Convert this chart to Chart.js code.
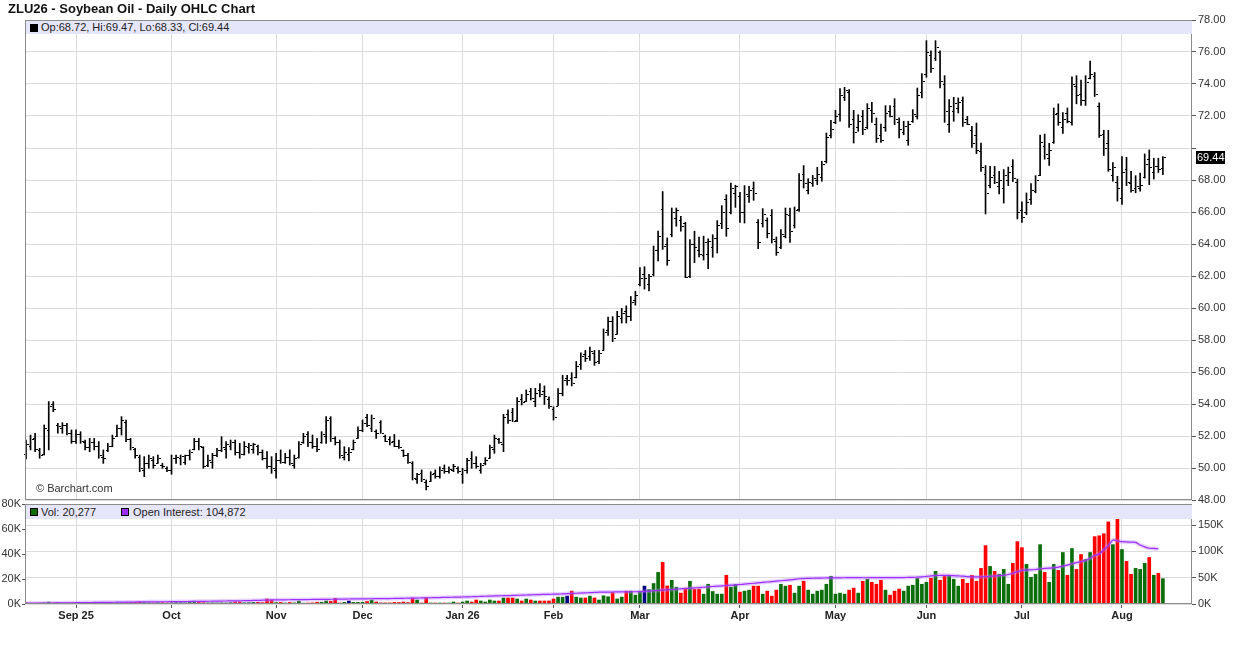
<!DOCTYPE html>
<html>
<head>
<meta charset="utf-8">
<script src="https://cdn.jsdelivr.net/npm/chart.js@4/dist/chart.umd.min.js"></script>
<style>
  body { margin: 0; background: #fff; font-family: "Liberation Sans", Arial, sans-serif; }
  #wrap { position: relative; width: 1236px; height: 645px; overflow: hidden; background: #fff; }
  .box { position: absolute; left: 0; width: 1236px; }
  .t { position: absolute; font-size: 11px; color: #222; white-space: nowrap; line-height: 13px; }
  .band { position: absolute; left: 26px; width: 1166px; background: #e6e6fa; }
  .sq { position: absolute; width: 6px; height: 6px; }
</style>
</head>
<body>
<div id="wrap">
  <div class="box" style="top:0;height:512px"><canvas id="price" width="1236" height="512"></canvas></div>
  <div class="box" style="top:488px;height:157px"><canvas id="vol" width="1236" height="157"></canvas></div>

  <div class="t" style="left:8px;top:1px;font-size:13px;font-weight:bold;color:#111;line-height:16px">ZLU26 - Soybean Oil - Daily OHLC Chart</div>

  <div class="band" style="top:21px;height:13px"></div>
  <div class="sq" style="left:30px;top:24px;background:#000;border:1px solid #000"></div>
  <div class="t" style="left:41px;top:21px">Op:68.72, Hi:69.47, Lo:68.33, Cl:69.44</div>

  <div class="t" style="left:36px;top:482px;color:#333">© Barchart.com</div>

  <div class="band" style="top:505px;height:14px"></div>
  <div class="sq" style="left:30px;top:508px;background:#0b6e0b;border:1px solid #000"></div>
  <div class="t" style="left:41px;top:505px;line-height:14px">Vol: 20,277</div>
  <div class="sq" style="left:121px;top:508px;background:#9b30ff;border:1px solid #000"></div>
  <div class="t" style="left:133px;top:505px;line-height:14px">Open Interest: 104,872</div>
</div>
<script>
// ZLU26 daily bars, Aug 15 2025 .. Aug 14 2026 (251 sessions)
const monthStarts = [11, 32, 55, 74, 96, 116, 135, 157, 178, 198, 219, 241];
const monthLabels = ['Sep 25', 'Oct', 'Nov', 'Dec', 'Jan 26', 'Feb', 'Mar', 'Apr', 'May', 'Jun', 'Jul', 'Aug'];
const priceTicks = [48, 50, 52, 54, 56, 58, 60, 62, 64, 66, 68, 70, 72, 74, 76, 78];
const volTicks = [0, 20000, 40000, 60000, 80000];
const oiTicks = [0, 50000, 100000, 150000];

const opens = [
  50.9,51.4,51.9,51.1,50.9,52.4,54.0,52.7,52.5,52.7,
  52.2,51.7,52.1,51.6,51.3,51.6,51.4,50.7,51.1,51.4,
  52.0,52.5,52.9,51.8,51.2,50.7,49.9,50.3,50.5,50.3,
  50.2,50.0,49.9,50.6,50.6,50.4,50.8,51.2,51.7,51.3,
  50.2,50.4,50.8,51.1,51.2,51.4,51.6,51.0,50.9,51.3,
  51.2,51.4,51.0,50.6,50.1,49.9,50.5,50.4,50.7,50.2,
  50.7,51.6,52.1,51.6,51.4,51.6,52.0,53.1,51.9,51.6,
  50.7,50.9,51.2,51.9,52.4,53.2,52.5,52.3,52.9,52.0,
  51.8,51.7,51.4,51.1,50.8,50.3,49.3,49.7,49.1,49.2,
  49.7,49.5,50.0,49.8,49.9,50.0,49.6,49.9,50.6,50.3,
  49.9,50.3,50.6,51.2,51.8,51.5,53.4,53.5,53.0,54.3,
  54.2,54.8,54.2,54.9,54.8,54.3,53.7,53.9,54.7,55.6,
  55.6,55.7,56.5,57.1,57.0,57.2,56.7,57.4,58.6,59.2,
  58.4,59.4,59.8,59.5,60.5,61.5,62.1,61.5,62.1,63.6,
  66.2,64.0,64.6,65.6,65.5,65.3,62.0,64.0,63.6,63.3,
  63.4,63.8,64.4,65.3,66.8,66.0,67.2,67.0,66.0,67.0,
  67.5,65.4,65.3,65.5,65.8,64.2,63.8,64.5,65.8,65.2,
  66.2,68.4,67.4,67.8,68.0,68.2,69.2,70.8,71.6,72.1,
  73.2,73.5,71.8,71.3,72.0,71.3,72.4,71.5,70.8,71.3,
  72.3,72.6,71.6,71.0,70.5,71.7,72.0,73.5,74.6,75.8,
  75.6,76.0,74.0,71.5,72.3,72.5,73.0,71.8,71.1,70.8,
  69.8,68.4,67.7,68.3,67.6,67.5,68.0,68.9,67.9,66.1,
  66.0,66.8,67.3,68.3,70.1,69.4,70.4,72.2,71.3,72.2,
  71.6,73.9,73.4,73.0,74.4,74.5,72.6,70.9,70.3,68.3,
  67.9,66.9,68.7,67.8,67.5,67.5,68.2,69.3,68.5,68.9,68.72
];
const highs = [
  51.75,52.06,52.17,51.23,52.69,54.15,54.15,52.79,52.83,52.79,
  52.38,52.38,52.27,51.75,51.85,51.85,51.65,51.13,51.54,52.06,
  52.69,53.21,53.00,51.85,51.23,50.81,50.71,50.81,50.71,50.81,
  50.29,50.08,50.81,50.81,50.81,50.81,51.13,51.85,51.85,51.33,
  50.81,50.92,51.23,51.96,51.65,51.75,51.75,51.54,51.65,51.54,
  51.54,51.44,51.13,51.02,50.71,50.92,51.13,50.92,51.13,50.81,
  51.65,52.17,52.27,52.06,51.85,52.27,53.21,53.21,51.96,51.75,
  51.33,51.27,51.75,52.58,53.00,53.36,53.31,52.38,52.96,52.06,
  51.96,52.10,51.75,51.13,50.92,50.40,49.67,49.88,49.25,49.77,
  49.88,50.08,50.19,50.08,50.23,50.08,49.98,50.60,51.02,50.71,
  50.29,50.65,51.44,52.06,51.85,53.36,53.63,53.73,54.40,54.60,
  54.88,54.98,54.98,55.27,55.13,54.45,53.83,54.96,55.79,55.79,
  55.96,56.66,57.20,57.35,57.55,57.35,57.35,58.69,59.44,59.46,
  59.79,59.98,60.14,60.72,61.05,62.52,62.58,62.11,63.87,64.80,
  67.28,64.38,66.25,66.25,65.73,65.36,64.28,64.80,64.43,64.49,
  64.32,64.58,65.46,66.40,67.08,67.81,67.67,67.23,67.65,67.60,
  67.88,65.52,66.21,65.63,66.15,64.44,64.90,66.25,66.25,66.31,
  68.40,68.90,68.08,68.29,68.79,69.17,70.94,71.73,72.35,73.71,
  73.79,73.65,72.35,72.08,72.35,72.77,72.85,71.88,71.50,72.65,
  72.65,73.08,71.88,71.67,71.67,72.40,73.75,74.65,76.71,76.08,
  76.71,76.08,74.52,73.02,73.17,73.13,73.19,71.98,71.35,71.56,
  70.31,68.90,68.85,68.85,68.54,68.65,68.81,69.27,68.06,66.63,
  67.19,67.77,68.27,70.80,70.87,70.29,72.50,72.76,72.21,72.50,
  74.45,74.52,74.25,74.52,75.44,74.72,72.82,71.11,71.11,69.09,
  68.23,69.46,69.42,68.54,68.27,68.43,69.63,69.88,69.36,69.36,69.47
];
const lows = [
  50.56,51.13,51.02,50.61,50.81,51.13,53.52,52.17,52.17,52.06,
  51.54,51.54,51.54,51.13,51.02,51.13,50.61,50.29,51.02,51.33,
  51.96,52.06,51.65,51.13,50.61,49.77,49.46,49.98,49.98,50.29,
  49.98,49.77,49.61,50.29,50.19,50.23,50.50,51.13,51.13,49.98,
  50.08,49.98,50.71,51.02,50.61,51.13,50.81,50.61,50.81,50.92,
  50.92,50.81,50.50,49.98,49.67,49.36,50.29,50.29,50.19,49.98,
  50.61,51.54,51.33,51.23,51.02,51.54,51.54,51.65,51.44,50.61,
  50.50,50.44,51.13,51.85,52.27,52.58,52.27,51.85,52.17,51.65,
  51.44,51.33,51.23,50.71,50.29,49.25,49.04,49.15,48.63,49.15,
  49.36,49.36,49.67,49.67,49.77,49.67,49.04,49.67,49.98,49.98,
  49.67,50.19,50.60,50.92,51.54,51.02,52.79,52.90,52.90,53.94,
  54.15,54.25,53.83,54.45,53.97,53.72,53.00,53.89,54.51,55.17,
  55.13,55.63,56.16,56.66,56.72,56.41,56.52,57.35,58.28,57.90,
  58.36,59.06,59.06,59.21,60.18,61.38,61.18,61.07,62.00,62.94,
  63.66,62.67,64.45,65.11,64.80,61.90,61.90,62.83,63.20,63.00,
  62.46,63.17,63.44,64.96,64.48,65.88,66.29,65.35,65.31,66.60,
  66.73,63.71,65.06,64.38,64.06,63.29,63.71,64.38,64.10,65.00,
  66.04,67.50,67.13,67.60,67.71,67.92,69.06,70.63,71.52,71.67,
  72.96,71.29,70.31,71.04,70.83,71.19,71.60,70.35,70.35,71.04,
  71.94,71.46,70.63,70.83,70.17,71.60,71.81,73.13,74.42,74.73,
  75.46,73.75,71.60,70.98,71.67,72.19,71.35,71.46,70.04,69.65,
  68.54,65.88,67.50,67.77,67.13,66.56,67.65,67.90,65.56,65.35,
  65.83,66.47,67.20,68.27,69.30,68.91,70.29,71.42,70.91,71.57,
  71.42,72.76,72.66,72.66,74.31,73.22,70.66,69.53,68.54,67.92,
  66.68,66.47,67.65,67.24,67.20,67.30,68.12,67.71,68.06,68.47,68.33
];
const closes = [
  51.5,51.8,51.2,50.8,52.5,53.9,53.7,52.6,52.7,52.2,
  51.7,52.1,51.7,51.3,51.6,51.4,50.8,50.6,51.4,51.9,
  52.5,53.0,51.8,51.3,50.8,50.0,50.3,50.6,50.2,50.6,
  50.1,49.9,50.6,50.7,50.75,50.8,51.0,51.7,51.4,50.1,
  50.5,50.8,51.1,51.3,51.5,51.6,51.0,50.9,51.4,51.45,
  51.5,51.0,50.6,50.1,50.0,50.5,50.4,50.7,50.3,50.6,
  51.5,52.0,51.6,51.4,51.2,52.1,53.0,51.9,51.6,50.8,
  51.0,51.0,51.6,52.4,52.8,52.7,53.1,52.2,52.18,51.7,
  51.6,51.4,51.3,50.8,50.4,49.4,49.6,49.3,48.9,49.6,
  49.5,49.9,49.8,49.95,50.1,49.8,49.9,50.5,50.3,50.1,
  50.2,50.5,51.3,51.9,51.6,53.2,53.0,52.95,54.2,54.1,
  54.6,54.4,54.7,54.6,54.5,53.9,53.2,54.7,55.5,55.5,
  55.3,56.4,57.0,56.9,57.3,56.6,57.2,58.5,59.2,58.1,
  59.5,59.7,59.5,60.4,60.8,61.9,61.9,62.0,63.6,64.5,
  63.9,63.0,66.0,66.1,65.1,61.95,64.0,63.8,63.4,64.1,
  64.2,64.4,65.2,66.0,65.0,67.5,67.6,66.0,67.1,67.4,
  67.2,64.1,65.9,64.7,64.3,63.5,64.6,65.9,64.8,66.1,
  68.0,67.8,67.9,68.1,68.4,69.0,70.7,71.2,72.0,73.3,
  73.6,71.5,71.0,71.7,71.2,72.5,72.2,70.6,70.5,72.2,
  72.0,71.8,71.2,71.4,71.5,72.1,73.3,74.2,76.0,75.0,
  76.3,74.2,72.3,72.6,72.8,72.9,71.6,71.5,70.3,69.9,
  68.8,67.2,68.2,67.9,68.0,68.3,68.5,68.1,66.0,65.7,
  66.6,67.4,68.0,70.4,69.6,69.9,72.1,71.6,71.8,71.7,
  74.0,73.3,73.0,74.1,74.6,73.4,70.8,70.0,68.7,68.8,
  67.5,68.5,67.9,67.4,67.6,67.7,69.0,68.8,68.9,68.7,69.44
];
const volumes = [
  800,500,600,700,900,1500,900,1000,600,700,
  800,600,700,800,600,500,900,1300,800,900,
  1000,900,1100,1300,1400,1500,1200,1000,800,1100,
  1200,900,1000,1200,1100,1000,1300,2300,1300,1100,
  900,1000,900,1000,900,1100,1700,1600,1000,1100,
  1300,1300,1100,4000,3200,1100,1300,800,1200,900,
  2300,700,800,900,1400,1400,2400,2100,4500,800,
  1300,2400,1300,1300,1400,2000,3200,1600,900,900,
  900,1300,1200,1600,1100,4800,3200,800,5000,800,
  800,800,800,800,1600,800,1600,2400,1600,3200,
  2400,1600,3200,2400,2400,4800,4800,4800,4000,2400,
  4000,3200,2400,2400,2400,2400,4000,5500,5500,6300,
  10300,5500,4800,4800,6300,4800,3200,6600,5800,9200,
  4000,5500,10300,10300,7100,10300,14300,11600,16400,25300,
  33300,14500,19000,13500,8700,12700,18200,11900,11900,7900,
  15800,10000,7900,7900,23000,13500,15600,9500,10300,11100,
  14300,14300,7900,10300,6300,11100,15800,14300,15000,8700,
  14300,18200,11100,7900,10300,11100,15800,22200,7900,8700,
  7900,11100,12700,8700,18200,19800,17400,15800,19000,11100,
  7100,10300,11900,10300,14300,15000,20500,15800,17400,20600,
  26100,19000,22200,23000,19800,14300,19800,16600,23000,18200,
  28500,46700,30100,26100,23800,27700,15800,32500,49900,45100,
  31700,21400,23800,47500,25300,17400,31700,26900,41200,23000,
  44400,27700,39600,35600,41200,53900,54600,56200,65700,47500,
  69700,43600,34100,23800,28500,27700,32500,37200,23000,24600,20277
];
const openInterest = [
  1500,1500,1600,1600,1700,1800,1900,2000,2100,2200,
  2300,2500,2600,2700,2800,2900,3000,3100,3200,3300,
  3400,3500,3600,3700,3800,3900,4000,4100,4200,4200,
  4300,4300,4400,4500,4600,4700,4800,4900,5000,5100,
  5200,5300,5400,5600,5700,5800,5900,6100,6300,6500,
  6700,6900,7200,7500,7700,7800,7900,8000,8100,8200,
  8300,8400,8500,8600,8700,8800,8900,9000,9100,9200,
  9300,9500,9600,9700,9800,9900,10000,10100,10200,10300,
  10400,10500,10700,10800,11000,11200,11300,11500,11700,11900,
  12100,12300,12500,12700,12900,13100,13300,13500,13800,14100,
  14400,14700,15000,15300,15600,15800,16000,16200,16500,16800,
  17100,17400,17700,18000,18200,18400,18600,18800,19200,19600,
  20000,20400,20800,21200,21600,22000,22400,22600,22700,22800,
  22900,23000,23100,23200,23300,23500,24000,24600,25200,25800,
  26400,27000,27600,28200,28800,29400,30000,30600,31200,31800,
  32500,33200,33800,34400,35000,35700,36300,37000,37800,38600,
  39400,40200,41000,41800,42600,43400,44200,45000,45800,46800,
  48000,48400,48700,48900,49100,49300,49500,49600,49700,49800,
  49900,50000,50000,50000,49900,49900,50000,50000,50100,50100,
  50000,50100,50200,50300,50500,50700,51000,51500,52500,53500,
  54000,54500,54500,54200,53800,53300,52800,52000,51400,51400,
  51600,52000,52500,53200,54000,54500,56000,58500,61500,64000,
  64500,65000,65500,67000,67500,68000,69000,70000,72000,74000,
  76400,78500,80500,82700,87000,92000,95200,103000,111000,121600,
  120000,118400,118000,117500,117200,112000,108500,105900,105500,104872,null
];

const FONT = '"Liberation Sans", Arial, sans-serif';
const GRID = '#dcdcdc';
const FRAME = '#8c8c8c';
const X_MIN = -0.22, X_MAX = 256.4;
const last = closes.length - 1;

function monthAxis(showLabels) {
  return {
    type: 'linear', min: X_MIN, max: X_MAX, offset: false,
    afterBuildTicks: s => { s.ticks = monthStarts.map(v => ({ value: v })); },
    grid: { color: GRID, offset: false, drawTicks: showLabels, tickLength: 4, tickColor: '#555' },
    border: { display: false },
    ticks: {
      display: showLabels, autoSkip: false, maxRotation: 0, padding: 1,
      color: '#222', font: { family: FONT, size: 11, weight: 'bold' },
      callback: v => monthLabels[monthStarts.indexOf(v)]
    },
    afterFit: s => { s.height = showLabels ? 41 : 0; }
  };
}

const framePlugin = {
  id: 'frame',
  afterDraw(chart) {
    const a = chart.chartArea, ctx = chart.ctx;
    ctx.save();
    ctx.strokeStyle = FRAME;
    ctx.lineWidth = 1;
    ctx.strokeRect(Math.round(a.left) + 0.5, Math.round(a.top) + 0.5,
      Math.round(a.right - a.left) - 1, Math.round(a.bottom - a.top) - 1);
    ctx.restore();
  }
};

// open / close ticks on each bar, and the last price flag
const ohlcPlugin = {
  id: 'ohlc',
  afterDatasetsDraw(chart) {
    const xs = chart.scales.x, ys = chart.scales.y, ctx = chart.ctx;
    ctx.save();
    ctx.fillStyle = '#000';
    for (let i = 0; i < closes.length; i++) {
      const px = Math.round(xs.getPixelForValue(i));
      ctx.fillRect(px - 2, Math.round(ys.getPixelForValue(opens[i])), 2, 1);
      ctx.fillRect(px + 1, Math.round(ys.getPixelForValue(closes[i])), 2, 1);
    }
    const py = Math.round(ys.getPixelForValue(closes[last]));
    ctx.fillRect(1196, py - 6, 29, 13);
    ctx.fillStyle = '#fff';
    ctx.font = '11px ' + FONT;
    ctx.textBaseline = 'middle';
    ctx.fillText(closes[last].toFixed(2), 1197, py + 0.5);
    ctx.restore();
  }
};

new Chart(document.getElementById('price'), {
  type: 'bar',
  data: {
    datasets: [{
      data: highs.map((h, i) => ({ x: i, y: [lows[i], h] })),
      backgroundColor: '#000',
      borderWidth: 0,
      barThickness: 1
    }]
  },
  options: {
    responsive: false, animation: false,
    layout: { padding: { left: 25, top: 20, right: 0, bottom: 12 } },
    plugins: { legend: { display: false }, tooltip: { enabled: false } },
    scales: {
      x: monthAxis(false),
      y: {
        position: 'right', min: 48, max: 78,
        afterBuildTicks: s => { s.ticks = priceTicks.map(v => ({ value: v })); },
        grid: { color: GRID, tickLength: 4, tickColor: '#555' },
        border: { display: false },
        ticks: {
          padding: 2, color: '#333', font: { family: FONT, size: 11 },
          callback: v => Math.abs(v - closes[last]) < 1 ? '' : v.toFixed(2)
        },
        afterFit: s => { s.width = 44; }
      }
    }
  },
  plugins: [ohlcPlugin, framePlugin]
});

const volColors = closes.map((c, i) => {
  if (i === 0 || c > closes[i - 1]) return '#0b6e0b';
  if (c < closes[i - 1]) return '#ff0000';
  return '#000080';
});

new Chart(document.getElementById('vol'), {
  type: 'bar',
  data: {
    datasets: [
      {
        type: 'line', order: 0, yAxisID: 'y2',
        data: openInterest.map((v, i) => ({ x: i, y: v })),
        borderColor: '#9b30ff', borderWidth: 1.2, pointRadius: 0, tension: 0.2
      },
      {
        type: 'line', order: 1, yAxisID: 'y2',
        data: openInterest.map((v, i) => ({ x: i, y: v })),
        borderColor: 'rgba(185,120,255,0.35)', borderWidth: 4, pointRadius: 0, tension: 0.2
      },
      {
        order: 2, yAxisID: 'y',
        data: volumes.map((v, i) => ({ x: i, y: v })),
        backgroundColor: volColors, borderWidth: 0, barThickness: 3
      }
    ]
  },
  options: {
    responsive: false, animation: false,
    layout: { padding: { left: 0, top: 16, right: 0, bottom: 0 } },
    plugins: { legend: { display: false }, tooltip: { enabled: false } },
    scales: {
      x: monthAxis(true),
      y: {
        position: 'left', min: 0, max: 80000,
        afterBuildTicks: s => { s.ticks = volTicks.map(v => ({ value: v })); },
        grid: { drawOnChartArea: false, tickLength: 3, tickColor: '#555' },
        border: { display: false },
        ticks: { padding: 1, color: '#333', font: { family: FONT, size: 11 }, callback: v => (v / 1000) + 'K' },
        afterFit: s => { s.width = 25; }
      },
      y2: {
        position: 'right', min: 0, max: 190000,
        afterBuildTicks: s => { s.ticks = oiTicks.map(v => ({ value: v })); },
        grid: { color: GRID, tickLength: 4, tickColor: '#555' },
        border: { display: false },
        ticks: { padding: 2, color: '#333', font: { family: FONT, size: 11 }, callback: v => (v / 1000) + 'K' },
        afterFit: s => { s.width = 44; }
      }
    }
  },
  plugins: [framePlugin]
});
</script>
</body>
</html>
